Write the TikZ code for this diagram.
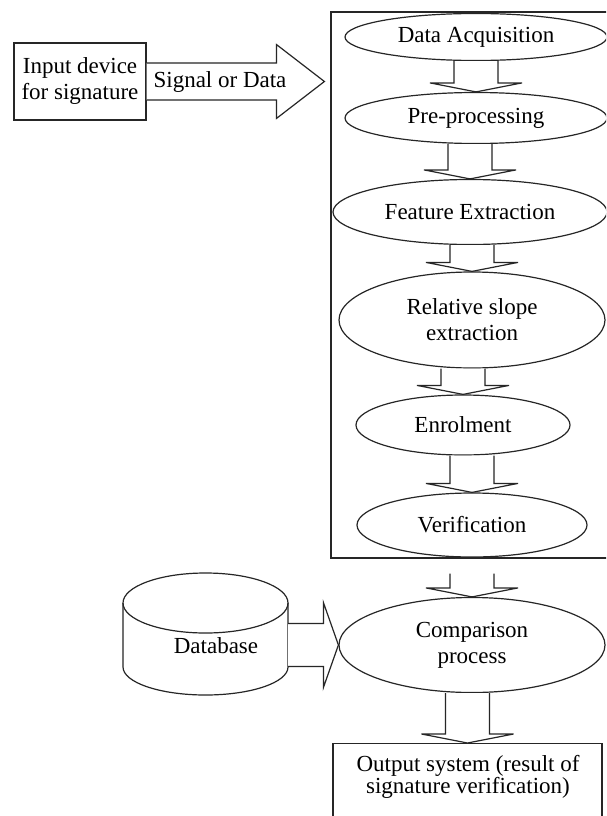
\documentclass[tikz,border=0pt]{standalone}
\usepackage{fontspec}
\setmainfont{Liberation Serif}
\usetikzlibrary{shapes.geometric,calc}

\tikzset{
  every node/.style={font=\fontsize{23}{26}\selectfont},
  oval/.style={draw=black!85,line width=1.2pt,ellipse,inner sep=0pt,align=center},
  boxed/.style={draw=black!85,line width=1.2pt,rectangle,inner sep=0pt,align=center},
  blockline/.style={draw=black!85,line width=1.2pt,fill=white,line join=miter},
}

\newcommand{\downblock}[3]{%
  \coordinate (tip) at (#2.north);
  \coordinate (base) at (tip |- #1.south);
  \draw[blockline] ($(base)+(-22,#3)$) -- ($(tip)+(-22,-9)$) -- ($(tip)+(-46,-9)$) -- (tip)
    -- ($(tip)+(46,-9)$) -- ($(tip)+(22,-9)$) -- ($(base)+(22,#3)$);
}
\newcommand{\rightblock}[5]{%
  \draw[blockline] ($(#1)+(0,-#3)$) -- ($(#2)+(-#5,-#3)$) -- ($(#2)+(-#5,-#4)$) -- (#2)
    -- ($(#2)+(-#5,#4)$) -- ($(#2)+(-#5,#3)$) -- ($(#1)+(0,#3)$);
}

\begin{document}
\begin{tikzpicture}[x=1pt,y=-1pt]
\useasboundingbox (0,0) rectangle (606,816);
\clip (0,0) rectangle (606,816);
\fill[white] (0,0) rectangle (606,816);

\node[boxed,minimum width=278,minimum height=546] (sys) at (470,285) {};

\node[oval,minimum width=262,minimum height=47] (acq) at (476,37) {Data Acquisition};
\node[oval,minimum width=262,minimum height=51] (pre) at (476,118) {Pre-processing};
\node[oval,minimum width=274,minimum height=65] (feat) at (470,212) {Feature Extraction};
\node[oval,minimum width=266,minimum height=96] (slope) at (472,320) {Relative slope\\extraction};
\node[oval,minimum width=214,minimum height=60] (enrol) at (463,425) {Enrolment};
\node[oval,minimum width=230,minimum height=64] (verif) at (472,525) {Verification};

\node[oval,minimum width=266,minimum height=95] (comp) at (472,645) {Comparison\\process};
\node[boxed,minimum width=269,minimum height=100,anchor=north] (outbox) at (467.5,743) {};
\node[align=center,font=\fontsize{23}{22}\selectfont] (outtxt) at (468,777) {Output system (result of\\signature verification)};

\node[boxed,minimum width=132,minimum height=77] (inbox) at (80,81.5) {Input device\\for signature};

\downblock{acq}{pre}{0}
\downblock{pre}{feat}{0}
\downblock{feat}{slope}{0}
\downblock{slope}{enrol}{0}
\downblock{enrol}{verif}{0}
\downblock{sys}{comp}{15}
\downblock{comp}{outbox}{0}

\coordinate (intip) at ($(inbox.east -| sys.west)+(-6,0)$);
\rightblock{inbox.east}{intip}{18.5}{37}{48}
\node (sig) at (220,82) {Signal or Data};

\draw[blockline] (123,603) -- (123,667) arc[start angle=180,end angle=360,x radius=82.5pt,y radius=28pt]
  -- (288,603) arc[start angle=0,end angle=180,x radius=82.5pt,y radius=30pt] -- cycle;
\draw[blockline,fill=none] (123,603) arc[start angle=180,end angle=360,x radius=82.5pt,y radius=30pt];
\node (db) at (216,646) {Database};
\coordinate (dbside) at (288,645);
\rightblock{dbside}{comp.west}{21.5}{42.5}{15}
\end{tikzpicture}
\end{document}
